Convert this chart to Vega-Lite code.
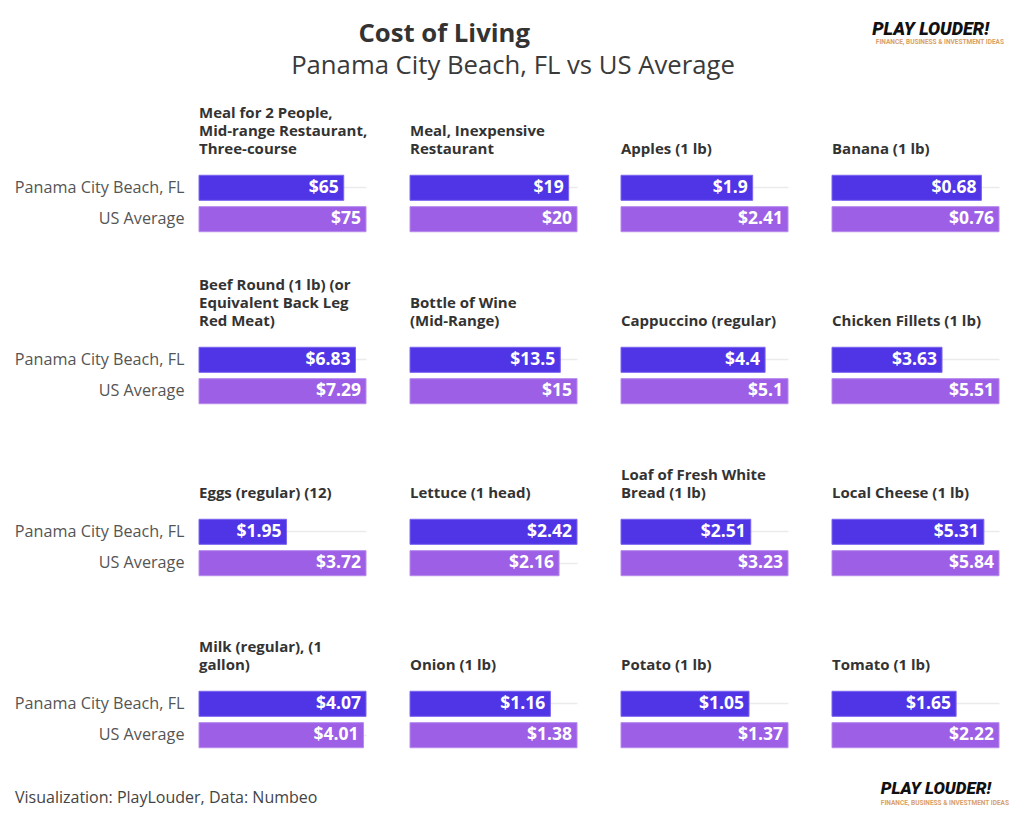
{
  "$schema": "https://vega.github.io/schema/vega-lite/v6.json",
  "background": "white",
  "padding": {"left": 14, "right": 18, "top": 0, "bottom": 0},
  "config": {"font": "Open Sans", "view": {"stroke": null}},
  "title": {
    "text": "Cost of Living",
    "anchor": "middle",
    "frame": "bounds",
    "dx": -68,
    "offset": -48,
    "font": "Open Sans",
    "fontSize": 25.7,
    "fontWeight": "bold",
    "color": "#333333"
  },
  "spacing": 26,
  "vconcat": [
    {
      "width": 808,
      "height": 80,
      "data": {"values": [{"a": 1}]},
      "title": {
        "text": "Panama City Beach, FL vs US Average",
        "anchor": "middle",
        "dx": -90,
        "offset": -80,
        "font": "Open Sans",
        "fontSize": 25.7,
        "fontWeight": "normal",
        "color": "#3a3a3a"
      },
      "layer": [
        {
          "mark": {"type": "text", "align": "right", "baseline": "top", "font": "Roboto", "fontWeight": 900, "fontStyle": "italic", "fontSize": 18, "color": "#111111", "dx": -18, "dy": 21},
          "encoding": {
            "x": {"datum": 1, "type": "quantitative", "scale": {"domain": [0, 1]}, "axis": null},
            "y": {"datum": 1, "type": "quantitative", "scale": {"domain": [0, 1]}, "axis": null},
            "text": {"value": "PLAY LOUDER!"}
          }
        },
        {
          "mark": {"type": "text", "align": "right", "baseline": "top", "font": "Roboto", "fontWeight": "bold", "fontSize": 6.5, "color": "#D9A066", "dx": -3, "dy": 39},
          "encoding": {
            "x": {"datum": 1, "type": "quantitative"},
            "y": {"datum": 1, "type": "quantitative"},
            "text": {"value": "FINANCE, BUSINESS & INVESTMENT IDEAS"}
          }
        }
      ]
    },
    {
      "data": {"values": [
        {"item": "Meal for 2 People,|Mid-range Restaurant,|Three-course", "ord": 1, "loc": "Panama City Beach, FL", "value": 65},
        {"item": "Meal for 2 People,|Mid-range Restaurant,|Three-course", "ord": 1, "loc": "US Average", "value": 75},
        {"item": "Meal, Inexpensive|Restaurant", "ord": 2, "loc": "Panama City Beach, FL", "value": 19},
        {"item": "Meal, Inexpensive|Restaurant", "ord": 2, "loc": "US Average", "value": 20},
        {"item": "Apples (1 lb)", "ord": 3, "loc": "Panama City Beach, FL", "value": 1.9},
        {"item": "Apples (1 lb)", "ord": 3, "loc": "US Average", "value": 2.41},
        {"item": "Banana (1 lb)", "ord": 4, "loc": "Panama City Beach, FL", "value": 0.68},
        {"item": "Banana (1 lb)", "ord": 4, "loc": "US Average", "value": 0.76},
        {"item": "Beef Round (1 lb) (or|Equivalent Back Leg|Red Meat)", "ord": 5, "loc": "Panama City Beach, FL", "value": 6.83},
        {"item": "Beef Round (1 lb) (or|Equivalent Back Leg|Red Meat)", "ord": 5, "loc": "US Average", "value": 7.29},
        {"item": "Bottle of Wine|(Mid-Range)", "ord": 6, "loc": "Panama City Beach, FL", "value": 13.5},
        {"item": "Bottle of Wine|(Mid-Range)", "ord": 6, "loc": "US Average", "value": 15},
        {"item": "Cappuccino (regular)", "ord": 7, "loc": "Panama City Beach, FL", "value": 4.4},
        {"item": "Cappuccino (regular)", "ord": 7, "loc": "US Average", "value": 5.1},
        {"item": "Chicken Fillets (1 lb)", "ord": 8, "loc": "Panama City Beach, FL", "value": 3.63},
        {"item": "Chicken Fillets (1 lb)", "ord": 8, "loc": "US Average", "value": 5.51},
        {"item": "Eggs (regular) (12)", "ord": 9, "loc": "Panama City Beach, FL", "value": 1.95},
        {"item": "Eggs (regular) (12)", "ord": 9, "loc": "US Average", "value": 3.72},
        {"item": "Lettuce (1 head)", "ord": 10, "loc": "Panama City Beach, FL", "value": 2.42},
        {"item": "Lettuce (1 head)", "ord": 10, "loc": "US Average", "value": 2.16},
        {"item": "Loaf of Fresh White|Bread (1 lb)", "ord": 11, "loc": "Panama City Beach, FL", "value": 2.51},
        {"item": "Loaf of Fresh White|Bread (1 lb)", "ord": 11, "loc": "US Average", "value": 3.23},
        {"item": "Local Cheese (1 lb)", "ord": 12, "loc": "Panama City Beach, FL", "value": 5.31},
        {"item": "Local Cheese (1 lb)", "ord": 12, "loc": "US Average", "value": 5.84},
        {"item": "Milk (regular), (1|gallon)", "ord": 13, "loc": "Panama City Beach, FL", "value": 4.07},
        {"item": "Milk (regular), (1|gallon)", "ord": 13, "loc": "US Average", "value": 4.01},
        {"item": "Onion (1 lb)", "ord": 14, "loc": "Panama City Beach, FL", "value": 1.16},
        {"item": "Onion (1 lb)", "ord": 14, "loc": "US Average", "value": 1.38},
        {"item": "Potato (1 lb)", "ord": 15, "loc": "Panama City Beach, FL", "value": 1.05},
        {"item": "Potato (1 lb)", "ord": 15, "loc": "US Average", "value": 1.37},
        {"item": "Tomato (1 lb)", "ord": 16, "loc": "Panama City Beach, FL", "value": 1.65},
        {"item": "Tomato (1 lb)", "ord": 16, "loc": "US Average", "value": 2.22}
      ]},
      "facet": {
        "field": "item",
        "type": "nominal",
        "sort": {"field": "ord", "op": "min"},
        "header": {
          "title": null,
          "labelExpr": "length(split(datum.value, '|')) >= 3 ? split(datum.value, '|') : length(split(datum.value, '|')) == 2 ? split('\u2800|' + datum.value, '|') : split('\u2800|\u2800|' + datum.value, '|')",
          "labelFont": "Open Sans",
          "labelFontSize": 15,
          "labelFontWeight": "bold",
          "labelColor": "#333333",
          "labelAnchor": "start",
          "labelAlign": "left",
          "labelBaseline": "bottom",
          "labelLineHeight": 18,
          "labelPadding": -3
        }
      },
      "columns": 4,
      "spacing": {"row": 40, "column": 32},
      "resolve": {"scale": {"x": "independent"}},
      "spec": {
        "width": 178,
        "height": 69,
        "layer": [
          {
            "mark": {"type": "bar", "strokeWidth": 1},
            "encoding": {
              "x": {"field": "value", "type": "quantitative", "scale": {"zero": true, "nice": false, "range": [0, 167]}, "axis": null},
              "y": {
                "field": "loc", "type": "nominal",
                "sort": ["Panama City Beach, FL", "US Average"],
                "scale": {"paddingInner": 0.2, "paddingOuter": 0.2},
                "axis": {"title": null, "ticks": false, "domain": false, "grid": true, "gridColor": "#ebebeb", "gridWidth": 1.5, "labelFont": "Open Sans", "labelFontSize": 16.2, "labelColor": "#555555", "labelPadding": 14}
              },
              "color": {
                "field": "loc", "type": "nominal",
                "scale": {"domain": ["Panama City Beach, FL", "US Average"], "range": ["#5035E6", "#9C5FE6"]},
                "legend": null
              },
              "stroke": {
                "field": "loc", "type": "nominal",
                "scale": {"domain": ["Panama City Beach, FL", "US Average"], "range": ["#7A66EE", "#B88AEE"]},
                "legend": null
              }
            }
          },
          {
            "mark": {"type": "text", "align": "right", "baseline": "middle", "dx": -5, "fontSize": 17.5, "fontWeight": "bold", "color": "white"},
            "encoding": {
              "x": {"field": "value", "type": "quantitative"},
              "y": {"field": "loc", "type": "nominal", "sort": ["Panama City Beach, FL", "US Average"]},
              "text": {"field": "value", "type": "quantitative", "format": "$"}
            }
          }
        ]
      }
    },
    {
      "width": 808,
      "height": 30,
      "data": {"values": [{"a": 1}]},
      "layer": [
        {
          "mark": {"type": "text", "align": "left", "baseline": "middle", "fontSize": 16, "color": "#444444", "dx": -184},
          "encoding": {
            "x": {"datum": 0, "type": "quantitative", "scale": {"domain": [0, 1]}, "axis": null},
            "y": {"datum": 0.5, "type": "quantitative", "scale": {"domain": [0, 1]}, "axis": null},
            "text": {"value": "Visualization: PlayLouder, Data: Numbeo"}
          }
        },
        {
          "mark": {"type": "text", "align": "right", "baseline": "top", "font": "Roboto", "fontWeight": 900, "fontStyle": "italic", "fontSize": 17, "color": "#111111", "dx": -16, "dy": -2},
          "encoding": {
            "x": {"datum": 1, "type": "quantitative"},
            "y": {"datum": 1, "type": "quantitative"},
            "text": {"value": "PLAY LOUDER!"}
          }
        },
        {
          "mark": {"type": "text", "align": "right", "baseline": "top", "font": "Roboto", "fontWeight": "bold", "fontSize": 6.5, "color": "#D9A066", "dx": 2, "dy": 17},
          "encoding": {
            "x": {"datum": 1, "type": "quantitative"},
            "y": {"datum": 1, "type": "quantitative"},
            "text": {"value": "FINANCE, BUSINESS & INVESTMENT IDEAS"}
          }
        }
      ]
    }
  ]
}
